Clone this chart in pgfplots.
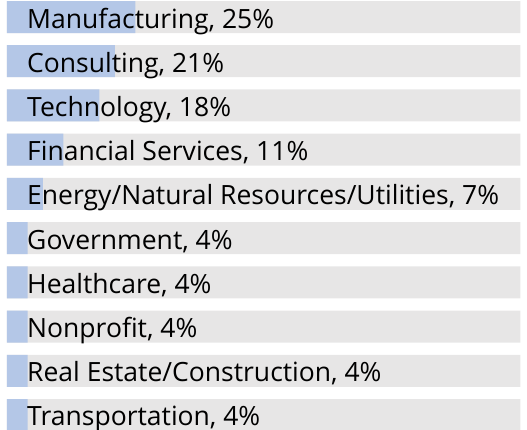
\documentclass[border=0pt]{standalone}
\usepackage{pgfplots}
\pgfplotsset{compat=1.18}
\usepackage{fontspec}
\setmainfont{Open Sans}
\definecolor{bgray}{HTML}{E7E6E6}
\definecolor{bblue}{HTML}{B4C7E7}
\begin{document}
\begin{tikzpicture}
\begin{axis}[
  scale only axis,
  width=527bp, height=430bp,
  xmin=-1.363, xmax=101.27,
  ymin=0, ymax=430,
  y dir=reverse,
  hide axis,
  xbar, bar shift=0pt, bar width=32,
]
\addplot[fill=bgray, draw=none] coordinates {
(100,17) (100,61.2) (100,105.4) (100,149.7) (100,193.9)
(100,238.1) (100,282.3) (100,326.5) (100,370.8) (100,415)};
\addplot[fill=bblue, draw=none] coordinates {
(25,17) (21,61.2) (18,105.4) (11,149.7) (7,193.9)
(4,238.1) (4,282.3) (4,326.5) (4,370.8) (4,415)};
\path (rel axis cs:0,0) rectangle (rel axis cs:1,1);
\tikzset{lab/.style={anchor=base west, inner sep=0pt, font=\fontsize{26.5bp}{30bp}\selectfont}}
\node[lab] at (axis cs:3.9,28) {Manufacturing, 25\%};
\node[lab] at (axis cs:3.9,72.2) {Consulting, 21\%};
\node[lab] at (axis cs:3.9,116.4) {Technology, 18\%};
\node[lab] at (axis cs:3.9,160.7) {Financial Services, 11\%};
\node[lab] at (axis cs:3.9,204.9) {Energy/Natural Resources/Utilities, 7\%};
\node[lab] at (axis cs:3.9,249.1) {Government, 4\%};
\node[lab] at (axis cs:3.9,293.3) {Healthcare, 4\%};
\node[lab] at (axis cs:3.9,337.5) {Nonprofit, 4\%};
\node[lab] at (axis cs:3.9,381.8) {Real Estate/Construction, 4\%};
\node[lab] at (axis cs:3.9,425.5) {Transportation, 4\%};
\end{axis}
\end{tikzpicture}
\end{document}
